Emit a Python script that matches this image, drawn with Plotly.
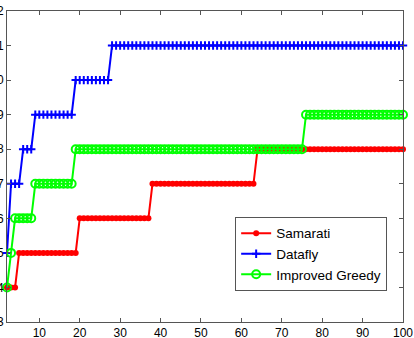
import plotly.graph_objects as go

x_values = list(range(2, 101))

samarati = [
    4, 4, 4, 5, 5, 5, 5, 5, 5, 5,
    5, 5, 5, 5, 5, 5, 5, 5, 6, 6,
    6, 6, 6, 6, 6, 6, 6, 6, 6, 6,
    6, 6, 6, 6, 6, 6, 7, 7, 7, 7,
    7, 7, 7, 7, 7, 7, 7, 7, 7, 7,
    7, 7, 7, 7, 7, 7, 7, 7, 7, 7,
    7, 7, 8, 8, 8, 8, 8, 8, 8, 8,
    8, 8, 8, 8, 8, 8, 8, 8, 8, 8,
    8, 8, 8, 8, 8, 8, 8, 8, 8, 8,
    8, 8, 8, 8, 8, 8, 8, 8, 8,
]

datafly = [
    5, 7, 7, 7, 8, 8, 8, 9, 9, 9,
    9, 9, 9, 9, 9, 9, 9, 10, 10, 10,
    10, 10, 10, 10, 10, 10, 11, 11, 11, 11,
    11, 11, 11, 11, 11, 11, 11, 11, 11, 11,
    11, 11, 11, 11, 11, 11, 11, 11, 11, 11,
    11, 11, 11, 11, 11, 11, 11, 11, 11, 11,
    11, 11, 11, 11, 11, 11, 11, 11, 11, 11,
    11, 11, 11, 11, 11, 11, 11, 11, 11, 11,
    11, 11, 11, 11, 11, 11, 11, 11, 11, 11,
    11, 11, 11, 11, 11, 11, 11, 11, 11,
]

improved_greedy = [
    4, 5, 6, 6, 6, 6, 6, 7, 7, 7,
    7, 7, 7, 7, 7, 7, 7, 8, 8, 8,
    8, 8, 8, 8, 8, 8, 8, 8, 8, 8,
    8, 8, 8, 8, 8, 8, 8, 8, 8, 8,
    8, 8, 8, 8, 8, 8, 8, 8, 8, 8,
    8, 8, 8, 8, 8, 8, 8, 8, 8, 8,
    8, 8, 8, 8, 8, 8, 8, 8, 8, 8,
    8, 8, 8, 8, 9, 9, 9, 9, 9, 9,
    9, 9, 9, 9, 9, 9, 9, 9, 9, 9,
    9, 9, 9, 9, 9, 9, 9, 9, 9,
]

x_ticks = [10, 20, 30, 40, 50, 60, 70, 80, 90, 100]
y_ticks = [3, 4, 5, 6, 7, 8, 9, 10, 11, 12]

fig = go.Figure()
fig.add_trace(go.Scatter(
    x=x_values, y=samarati, name="Samarati", mode="lines+markers",
    line=dict(color="#ff0000", width=2),
    marker=dict(symbol="circle", size=6, color="#ff0000"),
    cliponaxis=False,
))
fig.add_trace(go.Scatter(
    x=x_values, y=datafly, name="Datafly", mode="lines+markers",
    line=dict(color="#0000ff", width=2),
    marker=dict(symbol="cross-thin-open", size=6, color="#0000ff",
                line=dict(color="#0000ff", width=2)),
    cliponaxis=False,
))
fig.add_trace(go.Scatter(
    x=x_values, y=improved_greedy, name="Improved Greedy", mode="lines+markers",
    line=dict(color="#00ff00", width=2),
    marker=dict(symbol="circle-open", size=8, color="#00ff00",
                line=dict(color="#00ff00", width=2)),
    cliponaxis=False,
))

axis_common = dict(
    showline=True, linecolor="#555555", linewidth=1, mirror="ticks",
    ticks="inside", ticklen=4, tickcolor="#555555",
    showgrid=False, zeroline=False, automargin=False,
    tickfont=dict(family="Liberation Sans, Arial, sans-serif", size=12, color="#000000"),
)

fig.update_layout(
    width=414, height=338,
    margin=dict(l=7, r=11, t=11, b=16),
    paper_bgcolor="white", plot_bgcolor="white",
    xaxis=dict(range=[2, 100], tickvals=x_ticks, **axis_common),
    yaxis=dict(range=[3, 12], tickvals=y_ticks, **axis_common),
    legend=dict(
        x=0.96, y=0.1, xanchor="right", yanchor="bottom",
        bgcolor="white", bordercolor="#555555", borderwidth=1,
        font=dict(family="Liberation Sans, Arial, sans-serif", size=13.5, color="#000000"),
        tracegroupgap=0,
    ),
    showlegend=True,
)

fig.write_html("out.html")
